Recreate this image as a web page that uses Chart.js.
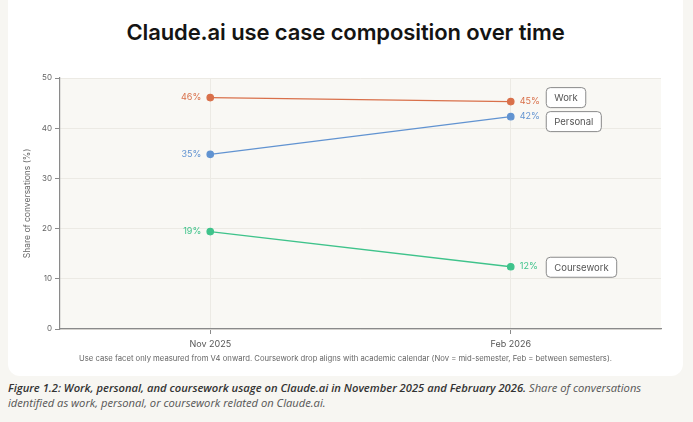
<!DOCTYPE html>
<html>
<head>
<meta charset="utf-8">
<script src="https://cdn.jsdelivr.net/npm/chart.js@4"></script>
<style>
  body { margin: 0; background: #f7f6f2; width: 693px; height: 422px; overflow: hidden; font-family: Inter, "DejaVu Sans", sans-serif; position: relative; }
  #card { position: absolute; left: 8px; top: -10px; width: 675px; height: 386px; background: #fff; border-radius: 12px; }
  #title { position: absolute; left: 0; top: 29px; width: 675px; text-align: center; font-size: 22px; font-weight: 600; color: #141413; letter-spacing: -0.1px; }
  #wrap { position: absolute; left: 0; top: 80px; width: 675px; height: 285px; }
  #note { position: absolute; left: 0; top: 364px; width: 675px; text-align: center; font-size: 7.7px; color: #666; }
  #caption { position: absolute; left: 8px; top: 380px; width: 645px; font-size: 11.2px; line-height: 15px; color: #555; font-style: italic; font-family: "Open Sans", Inter, sans-serif; }
  #caption b { color: #333; font-weight: 600; }
</style>
</head>
<body>
<div id="card">
  <div id="title">Claude.ai use case composition over time</div>
  <div id="wrap"><canvas id="chart"></canvas></div>
  <div id="note">Use case facet only measured from V4 onward. Coursework drop aligns with academic calendar (Nov = mid-semester, Feb = between semesters).</div>
</div>
<div id="caption"><b>Figure 1.2: Work, personal, and coursework usage on Claude.ai in November 2025 and February 2026.</b> Share of conversations identified as work, personal, or coursework related on Claude.ai.</div>

<script>
// --- Data ---
const periods = ['Nov 2025', 'Feb 2026'];
const seriesNames = ['Work', 'Personal', 'Coursework'];
const workShare = [46.1, 45.3];
const personalShare = [34.8, 42.3];
const courseworkShare = [19.4, 12.4];
const seriesColors = ['#d9704a', '#6193d1', '#3fc38b'];

const yMin = 0;
const yMax = 50;
const yStep = 10;

const fontFamily = 'Inter, "DejaVu Sans", sans-serif';

// plot background
const plotBackground = {
    id: 'plotBackground',
    beforeDraw(chart) {
        const { ctx, chartArea: a } = chart;
        ctx.save();
        ctx.fillStyle = '#f9f8f4';
        ctx.fillRect(a.left, a.top, a.right - a.left, a.bottom - a.top);
        ctx.restore();
    }
};

// percent labels beside points + boxed series names on the right
const pointLabels = {
    id: 'pointLabels',
    afterDatasetsDraw(chart) {
        const ctx = chart.ctx;
        ctx.save();
        ctx.font = '9px ' + fontFamily;
        ctx.textBaseline = 'middle';
        const tags = [];
        chart.data.datasets.forEach((ds, i) => {
            const meta = chart.getDatasetMeta(i);
            meta.data.forEach((pt, j) => {
                ctx.fillStyle = ds.borderColor;
                const txt = Math.round(ds.data[j]) + '%';
                if (j === 0) {
                    ctx.textAlign = 'right';
                    ctx.fillText(txt, pt.x - 9, pt.y);
                } else {
                    ctx.textAlign = 'left';
                    ctx.fillText(txt, pt.x + 9, pt.y);
                }
            });
            const last = meta.data[meta.data.length - 1];
            tags.push({ name: ds.label, x: last.x, y: last.y });
        });

        // push tags apart so boxes don't overlap
        tags.sort((a, b) => a.y - b.y);
        const gap = 24;
        for (let k = 1; k < tags.length; k++) {
            const d = tags[k].y - tags[k - 1].y;
            if (d < gap) {
                const shift = (gap - d) / 2;
                tags[k - 1].y -= shift;
                tags[k].y += shift;
            }
        }

        ctx.font = '9.5px ' + fontFamily;
        tags.forEach(t => {
            const w = ctx.measureText(t.name).width + 16;
            const h = 20;
            const bx = t.x + 35;
            const by = t.y - h / 2;
            ctx.fillStyle = '#ffffff';
            ctx.strokeStyle = '#8a8a8a';
            ctx.lineWidth = 1;
            ctx.beginPath();
            ctx.roundRect(bx + 0.5, by + 0.5, w, h, 4);
            ctx.fill();
            ctx.stroke();
            ctx.fillStyle = '#555';
            ctx.textAlign = 'left';
            ctx.fillText(t.name, bx + 8.5, t.y + 1);
        });
        ctx.restore();
    }
};

const seriesData = [workShare, personalShare, courseworkShare];

const chart = new Chart(document.getElementById('chart'), {
    type: 'line',
    data: {
        labels: periods,
        datasets: seriesNames.map((name, i) => ({
            label: name,
            data: seriesData[i],
            borderColor: seriesColors[i],
            backgroundColor: seriesColors[i],
            borderWidth: 1.3,
            pointRadius: 3.2,
            pointHoverRadius: 3.2,
            tension: 0
        }))
    },
    options: {
        responsive: true,
        maintainAspectRatio: false,
        animation: false,
        layout: { padding: { top: 8, right: 22, left: 10, bottom: 0 } },
        plugins: {
            legend: { display: false },
            tooltip: { enabled: false }
        },
        scales: {
            x: {
                offset: true,
                grid: { color: '#eceae4', tickColor: '#8a8a8a', tickLength: 5, offset: false },
                border: { color: '#8a8a8a', width: 1.2 },
                ticks: { color: '#555', font: { family: fontFamily, size: 9 }, padding: 5 },
                afterFit: s => { s.height = 26; }
            },
            y: {
                min: yMin,
                max: yMax,
                grid: { color: '#eceae4', tickColor: '#8a8a8a', tickLength: 5 },
                border: { color: '#8a8a8a', width: 1.2 },
                ticks: { stepSize: yStep, color: '#666', font: { family: fontFamily, size: 8 }, padding: 3 },
                title: { display: true, text: 'Share of conversations (%)', color: '#666', font: { family: fontFamily, size: 8.5 }, padding: { bottom: 8 } },
                afterFit: s => { s.width = 42; }
            }
        }
    },
    plugins: [plotBackground, pointLabels]
});
</script>
</body>
</html>
